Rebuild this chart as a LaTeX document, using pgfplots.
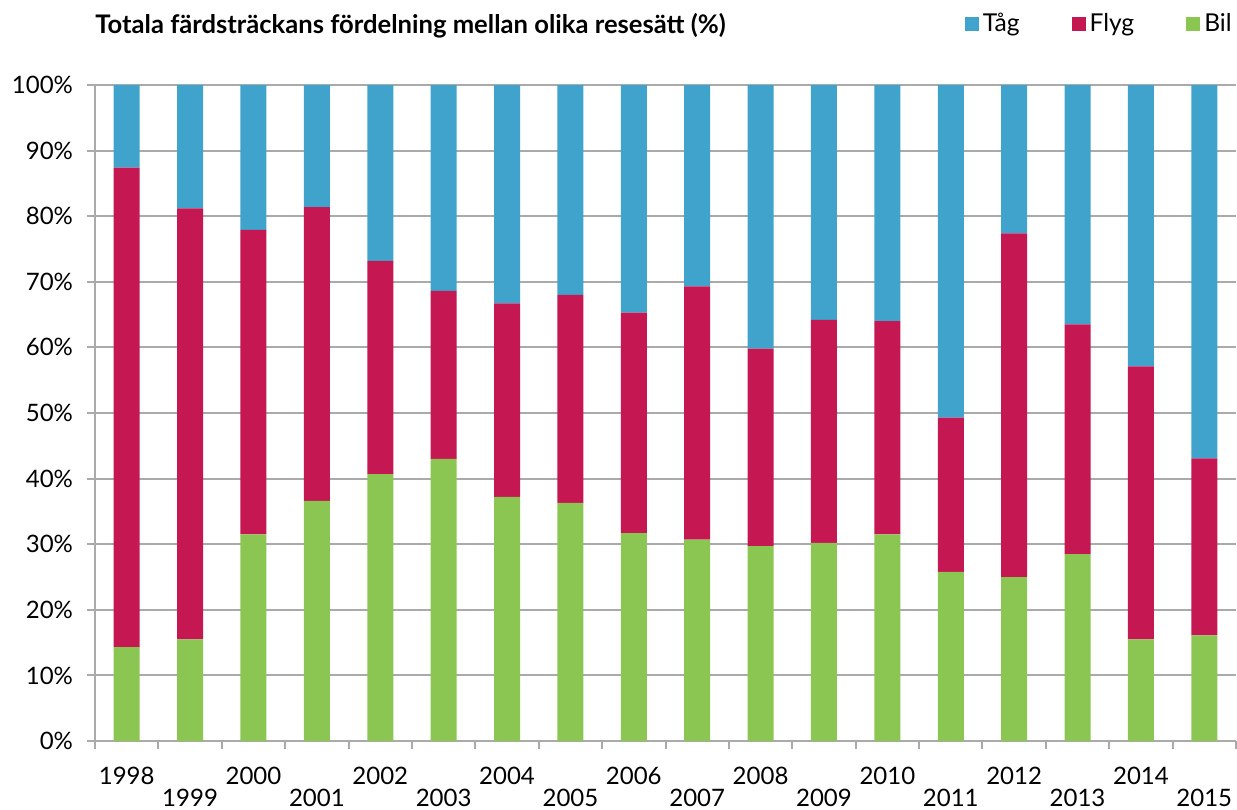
\documentclass[border=0pt]{standalone}
\usepackage{pgfplots}
\pgfplotsset{compat=1.18}
\usepackage{pgfplotstable}
\usepackage{fontspec}
\setmainfont{Lato}
\definecolor{tag}{RGB}{63,163,203}
\definecolor{flyg}{RGB}{197,23,82}
\definecolor{bil}{RGB}{139,198,82}
\definecolor{gridgray}{RGB}{170,170,170}
\newcommand\hi[1]{\raisebox{0pt}[0pt][0pt]{#1}}
\newcommand\lo[1]{\raisebox{-11pt}[0pt][0pt]{#1}}
\pgfplotstableread{
x Bil Flyg Tag
0 14.3 73.1 12.6
1 15.5 65.7 18.8
2 31.5 46.4 22.1
3 36.6 44.8 18.6
4 40.7 32.5 26.8
5 43.0 25.6 31.4
6 37.2 29.5 33.3
7 36.3 31.7 32.0
8 31.7 33.6 34.7
9 30.7 38.6 30.7
10 29.7 30.1 40.2
11 30.2 34.0 35.8
12 31.5 32.5 36.0
13 25.8 23.5 50.7
14 25.0 52.4 22.6
15 28.5 35.0 36.5
16 15.5 41.6 42.9
17 16.1 27.0 56.9
}\data
\begin{document}
\begin{tikzpicture}
\useasboundingbox (0,0) rectangle (618.5pt,-404.5pt);
\node[anchor=base west, inner sep=0pt, font=\fontsize{12.8}{14}\selectfont\bfseries] at (47.5pt,-16.5pt) {Totala färdsträckans fördelning mellan olika resesätt (\%)};
\begin{axis}[
  at={(47.5pt,-370.5pt)}, anchor=south west,
  scale only axis, width=570.5pt, height=328pt,
  ybar stacked, bar width=13pt,
  xmin=-0.5, xmax=17.5, ymin=0, ymax=100,
  axis x line*=bottom, axis y line*=left,
  axis line style={gridgray, line width=1pt},
  tick align=outside,
  tick style={gridgray, line width=1pt},
  major tick length=4pt,
  ytick={0,10,...,100},
  yticklabel={\pgfmathprintnumber{\tick}\%},
  yticklabel style={xshift=-3.5pt},
  ymajorgrids, grid style={gridgray, line width=1pt},
  xtick={-0.5,0.5,...,17.5},
  xticklabels={},
  extra x ticks={0,1,...,17},
  extra x tick labels={\hi{1998},\lo{1999},\hi{2000},\lo{2001},\hi{2002},\lo{2003},\hi{2004},\lo{2005},\hi{2006},\lo{2007},\hi{2008},\lo{2009},\hi{2010},\lo{2011},\hi{2012},\lo{2013},\hi{2014},\lo{2015}},
  extra x tick style={major tick length=0pt, xticklabel style={anchor=base, yshift=-21.75pt}},
  /pgf/number format/assume math mode=true,
  tick label style={font=\fontsize{12}{14}\selectfont, text=black},
  legend columns=3,
  reverse legend,
  legend style={at={(1,1)}, anchor=east, yshift=30.5pt, draw=none, fill=none, inner sep=0pt,
    font=\fontsize{12.3}{14}\selectfont,
    /tikz/every even column/.append style={column sep=24pt}},
  legend image code/.code={\fill[#1] (0pt,-3.5pt) rectangle (7pt,3.5pt);},
]
\addplot[fill=bil, draw=none] table[x=x, y=Bil] {\data};
\addplot[fill=flyg, draw=none] table[x=x, y=Flyg] {\data};
\addplot[fill=tag, draw=none] table[x=x, y=Tag] {\data};
\legend{Bil, Flyg, Tåg}
\end{axis}
\end{tikzpicture}
\end{document}
